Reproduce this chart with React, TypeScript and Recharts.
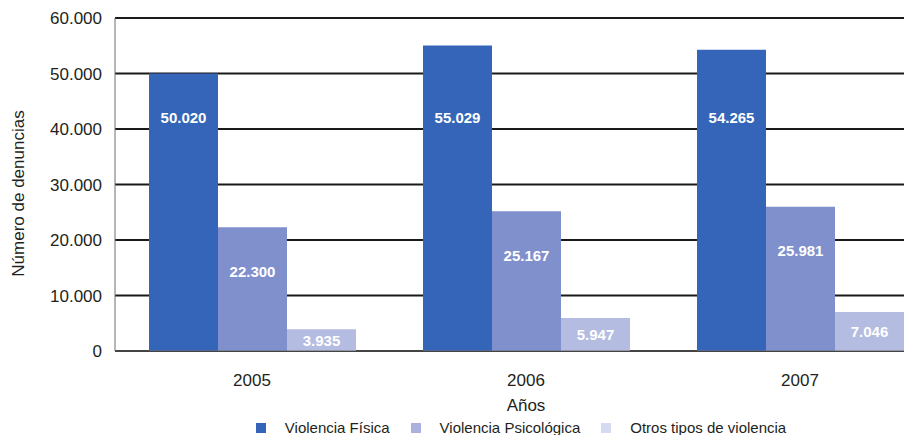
import React from 'react';
import { BarChart, Bar, XAxis, YAxis, CartesianGrid, Legend, LabelList, Label } from 'recharts';

const categories = ['2005', '2006', '2007'];
const violenciaFisica = [50020, 55029, 54265];
const violenciaPsicologica = [22300, 25167, 25981];
const otrosTipos = [3935, 5947, 7046];
const yTicks = [0, 10000, 20000, 30000, 40000, 50000, 60000];
const seriesNames = ['Violencia Física', 'Violencia Psicológica', 'Otros tipos de violencia'];
const barColors = ['#3565B8', '#7F90CC', '#B4BCE2'];
const legendColors = ['#3565B8', '#A9B1DC', '#D6DAF0'];

const data = categories.map((c, i) => ({
  year: c,
  fisica: violenciaFisica[i],
  psicologica: violenciaPsicologica[i],
  otros: otrosTipos[i],
}));

const fmt = (n: number) => String(n).replace(/\B(?=(\d{3})+(?!\d))/g, '.');

const FONT = '"Liberation Sans", Arial, sans-serif';

const makeLabel = (mode: 'bottom' | 'top' | 'center') => (props: any) => {
  const { x, y, width, height, value } = props;
  let cy: number;
  if (mode === 'bottom') cy = y + height - 234;
  else if (mode === 'top') cy = y + 44;
  else cy = y + height / 2;
  return (
    <text
      x={x + width / 2}
      y={cy}
      textAnchor="middle"
      dominantBaseline="central"
      fill="#ffffff"
      fontWeight="bold"
      fontSize={15}
      fontFamily={FONT}
    >
      {fmt(value)}
    </text>
  );
};

const LegendContent = () => (
  <div style={{ display: 'flex', justifyContent: 'center', alignItems: 'center', fontFamily: FONT, fontSize: 15, color: '#231f20', whiteSpace: 'nowrap' }}>
    {seriesNames.map((n, i) => (
      <div key={n} style={{ display: 'flex', alignItems: 'center', marginRight: i < seriesNames.length - 1 ? 21 : 0 }}>
        <span style={{ display: 'inline-block', width: 10, height: 10, background: legendColors[i], marginRight: 19 }} />
        <span>{n}</span>
      </div>
    ))}
  </div>
);

const YTitle = (props: any) => {
  const { viewBox } = props;
  const cx = 18;
  const cy = viewBox.y + viewBox.height / 2 + 9;
  return (
    <text
      x={cx}
      y={cy}
      transform={`rotate(-90, ${cx}, ${cy})`}
      textAnchor="middle"
      dominantBaseline="central"
      fill="#231f20"
      fontSize={17}
      fontFamily={FONT}
    >
      Número de denuncias
    </text>
  );
};

export default function App() {
  return (
    <div style={{ position: 'absolute', left: 0, top: 0, width: 904, height: 435, overflow: 'hidden', background: '#fff' }}>
      <BarChart
        width={940}
        height={435}
        data={data}
        margin={{ top: 18, right: 3, bottom: 0, left: 0 }}
        barCategoryGap={34}
        barGap={0}
      >
        <CartesianGrid vertical={false} stroke="#1a1a1a" strokeWidth={1.8} />
        <XAxis
          dataKey="year"
          height={84}
          tickLine={false}
          tickSize={0}
          tickMargin={23}
          axisLine={{ stroke: '#6e6e6e', strokeWidth: 1 }}
          tick={{ fill: '#231f20', fontSize: 17, fontFamily: FONT }}
        >
          <Label value="Años" position="insideBottom" offset={24} style={{ fill: '#231f20', fontSize: 17, fontFamily: FONT }} />
        </XAxis>
        <YAxis
          width={115}
          domain={[0, 60000]}
          ticks={yTicks}
          tickFormatter={fmt}
          tickLine={false}
          tickSize={0}
          tickMargin={13}
          axisLine={{ stroke: '#6e6e6e', strokeWidth: 1 }}
          tick={{ fill: '#231f20', fontSize: 17, fontFamily: FONT }}
          interval={0}
        >
          <Label content={<YTitle />} />
        </YAxis>
        <Legend
          verticalAlign="middle"
          align="center"
          content={<LegendContent />}
          wrapperStyle={{ top: 419, left: 110, width: 822, height: 18, bottom: 'auto', right: 'auto' }}
        />
        <Bar dataKey="fisica" name={seriesNames[0]} fill={barColors[0]} isAnimationActive={false}>
          <LabelList dataKey="fisica" content={makeLabel('bottom')} />
        </Bar>
        <Bar dataKey="psicologica" name={seriesNames[1]} fill={barColors[1]} isAnimationActive={false}>
          <LabelList dataKey="psicologica" content={makeLabel('top')} />
        </Bar>
        <Bar dataKey="otros" name={seriesNames[2]} fill={barColors[2]} isAnimationActive={false}>
          <LabelList dataKey="otros" content={makeLabel('center')} />
        </Bar>
      </BarChart>
    </div>
  );
}
